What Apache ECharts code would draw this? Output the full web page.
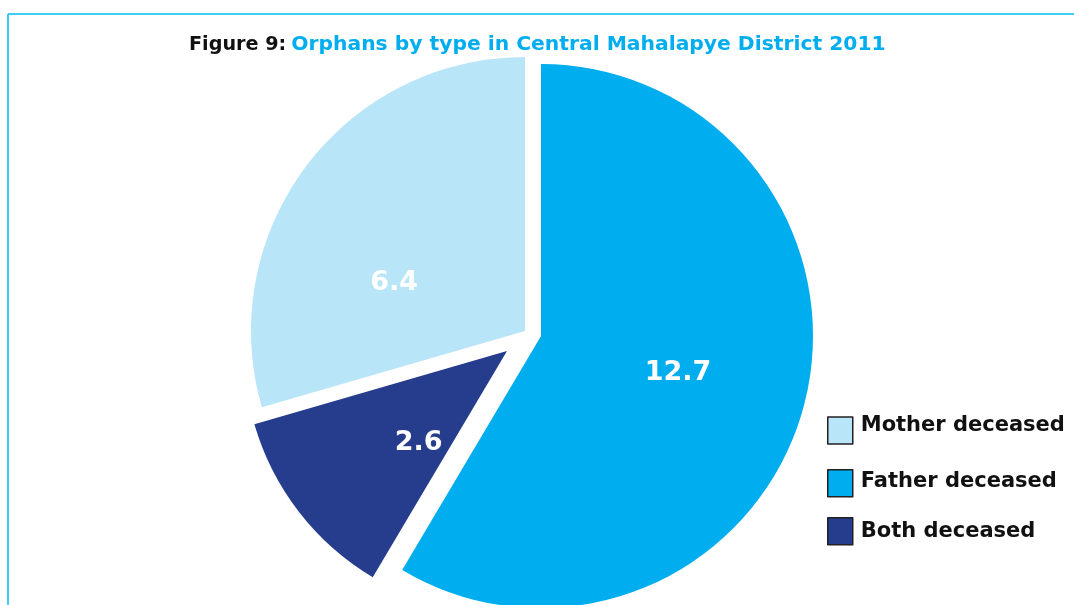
<!DOCTYPE html>
<html>
<head>
<meta charset="utf-8">
<script src="https://cdn.jsdelivr.net/npm/echarts@6/dist/echarts.min.js"></script>
<style>
html,body{margin:0;padding:0;background:#fff;}
#chart{width:1074px;height:605px;}
</style>
</head>
<body>
<div id="chart"></div>
<script>
// ---- data ----
const categories = ['Father deceased', 'Both deceased', 'Mother deceased'];
const values = [12.7, 2.6, 6.4];
const legendOrder = ['Mother deceased', 'Father deceased', 'Both deceased'];
const titlePrefix = 'Figure 9:';
const titleText = 'Orphans by type in Central Mahalapye District 2011';

// ---- style ----
const colors = ['#00AEEF', '#263C8C', '#B9E5F8'];
const sliceCenters = [[541, 336], [507, 351], [525, 331]];
const sliceRadii = [272, 263, 274];
const labelShift = [[3, 0], [18, 10], [-19, 36]];
const FONT = 'DejaVu Sans';

const series = categories.map((name, i) => ({
  type: 'pie',
  name: name,
  center: sliceCenters[i],
  radius: [0, sliceRadii[i]],
  startAngle: 90,
  clockwise: true,
  avoidLabelOverlap: false,
  emphasis: { disabled: true },
  labelLine: { show: false },
  labelLayout: { dx: labelShift[i][0], dy: labelShift[i][1] },
  data: categories.map((n, j) => ({
    name: n,
    value: values[j],
    itemStyle: { color: j === i ? colors[j] : 'rgba(0,0,0,0)' },
    label: j === i ? {
      show: true, position: 'inside', formatter: '{c}',
      color: '#fff', fontFamily: FONT, fontWeight: 'bold', fontSize: 27
    } : { show: false }
  }))
}));

const legendTops = [415, 469, 517];
const legendTextPad = [[0, 0, 10, 3], [0, 0, 4, 3], [0, 0, 0, 3]];
const legends = legendOrder.map((n, k) => {
  const j = categories.indexOf(n);
  return {
    orient: 'vertical',
    left: 827,
    top: legendTops[k],
    padding: 0,
    itemWidth: 25,
    itemHeight: 27,
    itemGap: 10,
    selectedMode: false,
    formatter: '{t|{name}}',
    textStyle: {
      rich: { t: { color: '#111', fontFamily: FONT, fontWeight: 'bold', fontSize: 21, padding: legendTextPad[k] } }
    },
    data: [{ name: n, icon: 'rect', itemStyle: { color: colors[j], borderColor: '#231F20', borderWidth: 1.5 } }]
  };
});

const chart = echarts.init(document.getElementById('chart'), null, { renderer: 'canvas' });
chart.setOption({
  backgroundColor: '#fff',
  animation: false,
  title: {
    text: '{a|' + titlePrefix + '} {b|' + titleText + '}',
    left: 184,
    top: 30,
    textStyle: {
      rich: {
        a: { color: '#111', fontFamily: FONT, fontWeight: 'bold', fontSize: 19.2 },
        b: { color: '#00AEEF', fontFamily: FONT, fontWeight: 'bold', fontSize: 20.3 }
      }
    }
  },
  legend: legends,
  graphic: [
    { type: 'line', silent: true, z: -1, shape: { x1: 8, y1: 14, x2: 1074, y2: 14 }, style: { stroke: '#00BCF2', lineWidth: 1.5 } },
    { type: 'line', silent: true, z: -1, shape: { x1: 8, y1: 14, x2: 8, y2: 605 }, style: { stroke: '#00BCF2', lineWidth: 1.5 } }
  ],
  series: series
});
</script>
</body>
</html>
